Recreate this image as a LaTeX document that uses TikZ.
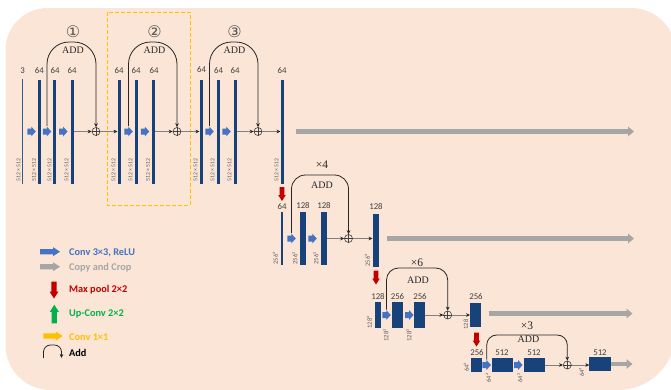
\documentclass[tikz,border=0pt]{standalone}
\usepackage{fontspec}
\setmainfont{Liberation Serif}
\newfontfamily\carl{Carlito}
\newfontfamily\djv{DejaVu Sans}
\usetikzlibrary{arrows.meta}
\definecolor{bgc}{HTML}{FBE5D6}
\definecolor{barc}{HTML}{17437A}
\definecolor{thinc}{HTML}{2E5E96}
\definecolor{convc}{HTML}{4472C4}
\definecolor{grayc}{HTML}{A6A6A6}
\definecolor{redc}{HTML}{C00000}
\definecolor{greenc}{HTML}{00B050}
\definecolor{yelc}{HTML}{FFC000}
\definecolor{txtc}{HTML}{404040}
\definecolor{linec}{HTML}{808080}
\newcommand\blockarr[9]{%
  \coordinate (#1) at (#2,#3);
  \fill[#5, shift={(#1)}, rotate=#4] (-#6/2,-#7) -- (#6/2-#9,-#7) -- (#6/2-#9,-#8) -- (#6/2,0) -- (#6/2-#9,#8) -- (#6/2-#9,#7) -- (-#6/2,#7) -- cycle;}
\newcommand\convarr[3]{\blockarr{#1}{#2}{#3}{0}{convc}{8.5}{3}{5}{4.5}}
\newcommand\poolarr[3]{\blockarr{#1}{#2}{#3}{-90}{redc}{14}{2.3}{3.8}{6}}
\newcommand\addnode[3]{%
  \node[addc] (#1) at (#2,#3) {};
  \draw[txtc, line width=0.45pt] (#1.north) -- (#1.south) (#1.west) -- (#1.east);}
\tikzset{
  bar/.style={fill=barc, inner sep=0pt, outer sep=0pt, minimum width=3pt, minimum height=104pt},
  num/.style={font=\carl\fontsize{8.8}{9}\selectfont, text=txtc, inner sep=0pt},
  dimlab/.style={font=\carl\fontsize{5.8}{6}\selectfont, text=txtc!85, rotate=90, anchor=west, inner sep=0pt},
  sqlab/.style={dimlab, font=\carl\fontsize{6.5}{7}\selectfont},
  addc/.style={circle, draw=txtc, line width=0.6pt, minimum size=8pt, inner sep=0pt},
  flow/.style={draw=linec, line width=0.6pt, -{Stealth[length=4pt,width=3.6pt,color=black!85]}},
  skip/.style={draw=black!85, line width=0.8pt, -{Stealth[length=4pt,width=3.6pt]}},
  addtxt/.style={font=\fontsize{10}{11}\selectfont, text=black!85, inner sep=0pt},
  timestxt/.style={font=\fontsize{11.5}{12}\selectfont, text=black!85, inner sep=0pt},
  circnum/.style={font=\djv\fontsize{16}{16}\selectfont, text=txtc!90, inner sep=0pt},
  copyarr/.style={draw=grayc, line width=4.5pt, -{Triangle[length=6pt,width=9.5pt]}},
  legtxt/.style={font=\carl\bfseries\fontsize{10.3}{12}\selectfont, anchor=west, inner sep=0pt},
}
\begin{document}
\begin{tikzpicture}[x=1pt,y=-1pt]
\useasboundingbox (0,0) rectangle (671,389);
% background
\fill[bgc] (5.5,50) arc[start angle=180, end angle=270, radius=42] -- (631,8)
  arc[start angle=270, end angle=360, radius=45] -- (676,332)
  arc[start angle=0, end angle=90, radius=58] -- (50.5,390)
  arc[start angle=90, end angle=180, radius=45] -- cycle;
% dashed box
\draw[yelc, line width=1pt, dash pattern=on 3.5pt off 2.5pt] (107.3,12) rectangle (190,205);

% ===== row 1 =====
\node[bar, fill=thinc, minimum width=1.4pt, minimum height=105pt] (b0) at (22.7,131) {};
\node[bar] (b1) at (39.3,131.5) {};
\node[bar] (b2) at (54.8,131.5) {};
\node[bar] (b3) at (72,131.5) {};
\node[bar] (b4) at (119,131.5) {};
\node[bar] (b5) at (136,131.5) {};
\node[bar] (b6) at (153.5,131.5) {};
\node[bar] (b7) at (201,131.5) {};
\node[bar] (b8) at (218,131.5) {};
\node[bar] (b9) at (235,131.5) {};
\node[bar] (b10) at (282,131.5) {};
\convarr{a1}{31.5}{131.5}
\convarr{a2}{47}{131.5}
\convarr{a3}{63.3}{131.5}
\convarr{a4}{128.5}{131.5}
\convarr{a5}{145}{131.5}
\convarr{a6}{209.5}{131.5}
\convarr{a7}{226.5}{131.5}
\addnode{p1}{96}{131.5}
\addnode{p2}{177}{131.5}
\addnode{p3}{258}{131.5}
\draw[flow] (b3) -- (p1);
\draw[flow] (p1) -- (b4);
\draw[flow] (b6) -- (p2);
\draw[flow] (p2) -- (b7);
\draw[flow] (b9) -- (p3);
\draw[flow] (p3) -- (b10);
\draw[skip, rounded corners=22pt] ([yshift=5.5pt]a2) -- ++(0,-84) -| (p1.north);
\draw[skip, rounded corners=22pt] ([yshift=5.5pt]a4) -- ++(0,-84) -| (p2.north);
\draw[skip, rounded corners=22pt] ([yshift=5.5pt]a6) -- ++(0,-84) -| (p3.north);
\node[circnum] (n1) at (73,32) {①};
\node[circnum] (n2) at (154.5,32) {②};
\node[circnum] (n3) at (234.5,32) {③};
\node[addtxt] (t1) at (73,50) {ADD};
\node[addtxt] (t2) at (154.5,50) {ADD};
\node[addtxt] (t3) at (234.5,50) {ADD};
\node[num] (lb0) at (22.7,71) {3};
\node[num] (lb1) at (39.3,71) {64};
\node[num] (lb2) at (55,71) {64};
\node[num] (lb3) at (72,71) {64};
\node[num] (lb4) at (119,70.5) {64};
\node[num] (lb5) at (136,71) {64};
\node[num] (lb6) at (154,71) {64};
\node[num] (lb7) at (201.5,70) {64};
\node[num] (lb8) at (218.5,71) {64};
\node[num] (lb9) at (235,71) {64};
\node[num] (lb10) at (282,71) {64};
\foreach \xx/\nm in {18.5/d0,34/d1,49.5/d2,66.5/d3,113.5/d4,130.5/d5,148/d6,195.5/d7,212.5/d8,229.5/d9,276.5/d10}
  \node[dimlab] (\nm) at (\xx,182) {512 × 512};
\coordinate (g1e) at (634,131.5);
\draw[copyarr] ([xshift=12pt]b10.east) -- (g1e);

% ===== row 2 =====
\poolarr{m1}{282}{194}
\node[bar, minimum width=2.6pt, minimum height=53pt] (c0) at (282,238.5) {};
\node[bar, minimum width=6pt, minimum height=53pt] (c1) at (303,238.5) {};
\node[bar, minimum width=6pt, minimum height=53pt] (c2) at (324,238.5) {};
\node[bar, minimum width=6pt, minimum height=53pt] (c3) at (375.5,240) {};
\convarr{a8}{291.5}{238.5}
\convarr{a9}{312.5}{238.5}
\addnode{p4}{348.5}{238.5}
\draw[flow] (c2) -- (p4);
\draw[flow] (p4) -- (p4 -| c3.west);
\draw[skip, rounded corners=14pt] ([yshift=5.5pt]a8) -- ++(0,-58) -| (p4.north);
\node[timestxt] (x4) at (322,164.5) {×4};
\node[addtxt] (t4) at (322,185) {ADD};
\node[num] (lc0) at (282,206.5) {64};
\node[num] (lc1) at (303,206) {128};
\node[num] (lc2) at (324,206) {128};
\node[num] (lc3) at (376,207) {128};
\node[sqlab] (e0) at (275.5,264.5) {256²};
\node[sqlab] (e1) at (295,264.5) {256²};
\node[sqlab] (e2) at (316,264.5) {256²};
\node[sqlab] (e3) at (367.5,266.5) {256²};
\coordinate (g2e) at (634,238.5);
\draw[copyarr] ([xshift=8pt]c3.east |- p4) -- (g2e);

% ===== row 3 =====
\poolarr{m2}{376}{277.5}
\node[bar, minimum width=6pt, minimum height=26pt] (r0) at (377.8,315) {};
\node[bar, minimum width=11pt, minimum height=26pt] (r1) at (397.2,315) {};
\node[bar, minimum width=11pt, minimum height=26pt] (r2) at (419.8,315) {};
\node[bar, minimum width=11pt, minimum height=24pt] (r3) at (475.5,315) {};
\convarr{a10}{386.5}{315}
\convarr{a11}{409.3}{315}
\addnode{p5}{447.7}{315}
\draw[flow] (r2) -- (p5);
\draw[flow] (p5) -- (r3);
\draw[skip, rounded corners=12pt] ([yshift=5.5pt]a10) -- ++(0,-41.5) -| (p5.north);
\node[timestxt] (x6) at (417,262.5) {×6};
\node[addtxt] (t5) at (418,280) {ADD};
\node[num] (lr0) at (378,297) {128};
\node[num] (lr1) at (397.5,297) {256};
\node[num] (lr2) at (420,297) {256};
\node[num] (lr3) at (476,297) {256};
\node[sqlab] (h0) at (369.5,328.5) {128²};
\node[sqlab] (h1) at (386,341.5) {128²};
\node[sqlab] (h2) at (409,341.5) {128²};
\node[sqlab] (h3) at (466,329.5) {128};
\coordinate (g3e) at (632.5,313.5);
\draw[copyarr] ([xshift=8pt]r3.east |- g3e) -- (g3e);

% ===== row 4 =====
\poolarr{m3}{476.5}{339.5}
\node[bar, minimum width=10.5pt, minimum height=13.5pt] (s0) at (476.5,365) {};
\node[bar, minimum width=21pt, minimum height=13.5pt] (s1) at (502.2,365) {};
\node[bar, minimum width=21pt, minimum height=13.5pt] (s2) at (534.5,365) {};
\node[bar, minimum width=21.4pt, minimum height=13.4pt] (s3) at (600,364) {};
\convarr{a12}{486.7}{365}
\convarr{a13}{518.3}{365}
\addnode{p6}{567.3}{365}
\draw[flow] (s2) -- (p6);
\draw[flow] (p6) -- (p6 -| s3.west);
\draw[skip, rounded corners=10pt] ([yshift=5.5pt]a12) -- ++(0,-24.5) -| (p6.north);
\node[timestxt] (x3) at (527,326) {×3};
\node[addtxt] (t6) at (528.5,339.5) {ADD};
\node[num] (ls0) at (477,353) {256};
\node[num] (ls1) at (502,353) {512};
\node[num] (ls2) at (534,353) {512};
\node[num] (ls3) at (600,352.5) {512};
\node[sqlab] (k0) at (466.5,372) {64²};
\node[sqlab] (k1) at (488.3,382.5) {64²};
\node[sqlab] (k2) at (520,382.5) {64²};
\node[sqlab] (k3) at (581.7,377) {64²};
\coordinate (g4e) at (632.5,364);
\draw[copyarr] (s3.east) -- (g4e);

% ===== legend =====
\blockarr{l1}{50}{251.7}{0}{convc}{20}{2.6}{4.5}{7}
\node[legtxt, text=convc] (lt1) at (69,252.5) {Conv 3×3, ReLU};
\blockarr{l2}{50}{266.7}{0}{grayc}{20}{2.6}{4.5}{7}
\node[legtxt, text=grayc] (lt2) at (69,268) {Copy and Crop};
\blockarr{l3}{54}{290}{-90}{redc}{17}{2.6}{4.5}{7}
\node[legtxt, text=redc] (lt3) at (69,289.3) {Max pool 2×2};
\blockarr{l4}{54.3}{314}{90}{greenc}{18.5}{2.6}{4.5}{7}
\node[legtxt, text=greenc] (lt4) at (69,314.3) {Up-Conv 2×2};
\blockarr{l5}{53}{336}{0}{yelc}{19.5}{2.6}{4.5}{7}
\node[legtxt, text=yelc] (lt5) at (69,336.7) {Conv 1×1};
\coordinate (l6a) at (43.5,358);
\coordinate (l6b) at (61.5,358);
\draw[skip, rounded corners=7pt] (l6a) -- ++(0,-13) -| (l6b);
\node[legtxt, text=black] (lt6) at (69,353.3) {Add};
\end{tikzpicture}
\end{document}
